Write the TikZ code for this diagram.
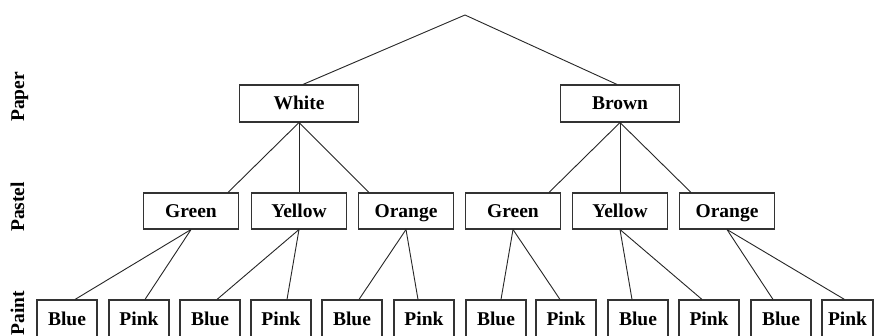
\documentclass[tikz,border=0pt]{standalone}
\usepackage{fontspec}
\setmainfont{Liberation Serif}
\begin{document}
\begin{tikzpicture}[x=1pt,y=-1pt,
  font=\fontsize{19.5}{21}\selectfont\bfseries,
  box/.style={draw=black!80, line width=1.1pt, inner sep=0pt, text height=13pt, text depth=0pt, align=center},
  toprow/.style={box, minimum width=119pt, minimum height=37pt},
  midrow/.style={box, minimum width=95pt, minimum height=36pt},
  botrow/.style={box, minimum width=60pt, minimum height=38pt},
  edge/.style={draw=black!85, line width=0.9pt},
  lab/.style={rotate=90, anchor=base west, inner sep=0pt}]
\useasboundingbox (0,0) rectangle (874,336);
\clip (0,0) rectangle (874,336);
\fill[white] (0,0) rectangle (874,336);

% side labels
\node[lab] (lpaper) at (24,122) {Paper};
\node[lab] (lpastel) at (24,232) {Pastel};
\node[lab] (lpaint) at (24,335.5) {Paint};

% root
\coordinate (root) at (465,15);

% level 1
\node[toprow] (white) at (299,103.5) {White};
\node[toprow] (brown) at (620,103.5) {Brown};

% level 2
\node[midrow] (g1) at (191,211) {Green};
\node[midrow] (y1) at (299,211) {Yellow};
\node[midrow] (o1) at (406,211) {Orange};
\node[midrow] (g2) at (513,211) {Green};
\node[midrow] (y2) at (620,211) {Yellow};
\node[midrow] (o2) at (727,211) {Orange};

% level 3
\node[botrow] (b1) at (67,319) {Blue};
\node[botrow] (p1) at (139,319) {Pink};
\node[botrow] (b2) at (210,319) {Blue};
\node[botrow] (p2) at (281,319) {Pink};
\node[botrow] (b3) at (352,319) {Blue};
\node[botrow] (p3) at (424,319) {Pink};
\node[botrow] (b4) at (496,319) {Blue};
\node[botrow] (p4) at (566,319) {Pink};
\node[botrow] (b5) at (638,319) {Blue};
\node[botrow] (p5) at (709,319) {Pink};
\node[botrow] (b6) at (781,319) {Blue};
\node[botrow, minimum width=51pt] (p6) at (847.5,319) {Pink};

% edges
\draw[edge] ([xshift=4pt]white.north) -- (root) -- ([xshift=-3pt]brown.north);

\draw[edge] (white.south) -- ([xshift=37pt]g1.north);
\draw[edge] (white.south) -- (y1.north);
\draw[edge] (white.south) -- ([xshift=-37pt]o1.north);
\draw[edge] (brown.south) -- ([xshift=36pt]g2.north);
\draw[edge] (brown.south) -- (y2.north);
\draw[edge] (brown.south) -- ([xshift=-36pt]o2.north);

\draw[edge] (g1.south) -- ([xshift=8pt]b1.north);
\draw[edge] (g1.south) -- ([xshift=6pt]p1.north);
\draw[edge] (y1.south) -- ([xshift=7pt]b2.north);
\draw[edge] (y1.south) -- ([xshift=6pt]p2.north);
\draw[edge] (o1.south) -- ([xshift=7pt]b3.north);
\draw[edge] (o1.south) -- ([xshift=-6pt]p3.north);
\draw[edge] (g2.south) -- ([xshift=5pt]b4.north);
\draw[edge] (g2.south) -- ([xshift=-6pt]p4.north);
\draw[edge] (y2.south) -- ([xshift=-6pt]b5.north);
\draw[edge] (y2.south) -- ([xshift=-7pt]p5.north);
\draw[edge] (o2.south) -- ([xshift=-8pt]b6.north);
\draw[edge] (o2.south) -- ([xshift=-3pt]p6.north);
\end{tikzpicture}
\end{document}
